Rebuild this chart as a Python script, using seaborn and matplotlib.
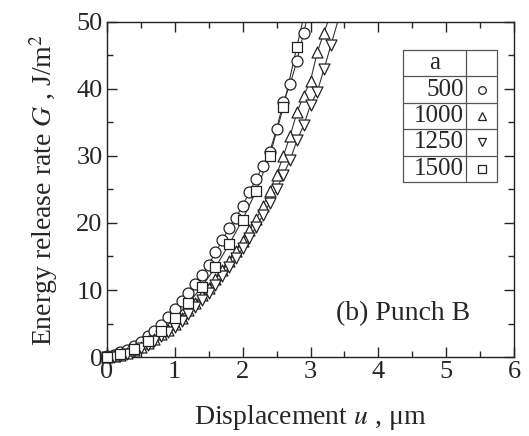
import numpy as np
import pandas as pd
import matplotlib
matplotlib.use("Agg")
import matplotlib.pyplot as plt
import seaborn as sns

# ---- data ----
u_500 = [0.0, 0.1, 0.2, 0.3, 0.4, 0.5, 0.6, 0.7, 0.8, 0.9, 1.0, 1.1, 1.2, 1.3, 1.4,
         1.5, 1.6, 1.7, 1.8, 1.9, 2.0, 2.1, 2.2, 2.3, 2.4, 2.5, 2.6, 2.7, 2.8, 2.9]
G_500 = [0.1, 0.3, 0.7, 1.1, 1.6, 2.3, 3.1, 3.9, 4.8, 6.0, 7.2, 8.3, 9.6, 10.9, 12.3,
         13.8, 15.6, 17.4, 19.3, 20.8, 22.6, 24.6, 26.6, 28.5, 30.6, 34.0, 38.0, 40.7, 44.2, 48.4]

u_1000 = [0.0, 0.1, 0.2, 0.3, 0.4, 0.5, 0.6, 0.7, 0.8, 0.9, 1.0, 1.1, 1.2, 1.3, 1.4, 1.5, 1.6,
          1.7, 1.8, 1.9, 2.0, 2.1, 2.2, 2.3, 2.4, 2.5, 2.6, 2.7, 2.8, 2.9, 3.0, 3.1, 3.2]
G_1000 = [0.0, 0.1, 0.3, 0.6, 1.0, 1.5, 2.1, 2.7, 3.4, 4.1, 4.9, 5.9, 7.0, 8.1, 9.2, 10.3, 11.7,
          13.0, 14.3, 15.8, 17.3, 18.9, 20.6, 22.5, 24.8, 27.2, 30.0, 33.0, 36.5, 39.0, 41.2, 45.5, 48.4]

u_1250 = [0.0, 0.1, 0.2, 0.3, 0.4, 0.5, 0.6, 0.7, 0.8, 0.9, 1.0, 1.1, 1.2, 1.3, 1.4, 1.5, 1.6,
          1.7, 1.8, 1.9, 2.0, 2.1, 2.2, 2.3, 2.4, 2.5, 2.6, 2.7, 2.8, 2.9, 3.0, 3.1, 3.2, 3.3]
G_1250 = [0.0, 0.05, 0.2, 0.5, 0.9, 1.3, 1.8, 2.4, 3.1, 3.8, 4.5, 5.4, 6.4, 7.4, 8.5, 9.6, 10.8,
          12.1, 13.4, 14.8, 16.2, 17.8, 19.4, 21.2, 23.0, 25.0, 27.2, 29.4, 32.3, 34.6, 37.6, 39.6, 43.0, 46.5]

u_1500 = [0.0, 0.2, 0.4, 0.6, 0.8, 1.0, 1.2, 1.4, 1.6, 1.8, 2.0, 2.2, 2.4, 2.6, 2.8]
G_1500 = [0.0, 0.4, 1.2, 2.4, 3.9, 5.8, 8.0, 10.5, 13.4, 16.8, 20.5, 24.8, 30.0, 37.3, 46.3]

labels = ["500", "1000", "1250", "1500"]
markers = ["o", "^", "v", "s"]
series = [(u_500, G_500), (u_1000, G_1000), (u_1250, G_1250), (u_1500, G_1500)]

x_ticks = [0, 1, 2, 3, 4, 5, 6]
y_ticks = [0, 10, 20, 30, 40, 50]

# ---- style ----
sns.set_style("ticks")
plt.rcParams["font.family"] = ["Liberation Serif", "DejaVu Serif"]
plt.rcParams["mathtext.fontset"] = "stix"

fig = plt.figure(figsize=(5.29, 4.36), dpi=100)
ax = fig.add_axes([0.202, 0.181, 0.770, 0.769])

for (u, G), lab, m in zip(series, labels, markers):
    u = np.asarray(u, float)
    G = np.asarray(G, float)
    # line through the points, continued past the last point along the final slope
    slope = (G[-1] - G[-2]) / (u[-1] - u[-2])
    u_ext = u[-1] + (56 - G[-1]) / slope
    ul = np.append(u, u_ext)
    Gl = np.append(G, 56.0)
    sns.lineplot(x=ul, y=Gl, ax=ax, color="#333333", lw=0.8, zorder=2, sort=False)
    df = pd.DataFrame({"u": u, "G": G})
    sns.scatterplot(data=df, x="u", y="G", ax=ax, marker=m, s=62,
                    facecolor="white", edgecolor="#222222", linewidth=0.9,
                    zorder=3, clip_on=False)

ax.set_xlim(0, 6)
ax.set_ylim(0, 50)
ax.set_xticks(x_ticks)
ax.set_yticks(y_ticks)
ax.set_xticks(np.arange(0.5, 6, 1.0), minor=True)
ax.set_yticks(np.arange(5, 50, 10), minor=True)
ax.tick_params(which="both", direction="in", top=True, right=True, labelsize=19, width=1.0)
ax.tick_params(which="major", length=7, pad=3)
ax.tick_params(which="minor", length=4)
for sp in ax.spines.values():
    sp.set_linewidth(1.0)
    sp.set_color("#222222")

ax.set_xlabel("Displacement $u$ , μm", fontsize=20, labelpad=14)
ax.set_ylabel("Energy release rate $G$ , J/m$^2$", fontsize=20, labelpad=12)

ax.text(0.892, 0.131, "(b) Punch B", transform=ax.transAxes, ha="right", va="center", fontsize=20)

# ---- table-style legend ----
x0, x1, xd = 0.727, 0.958, 0.882
y_top, y_bot = 0.916, 0.522
nrow = 5
rh = (y_top - y_bot) / nrow
lc = "#555555"
tr = ax.transAxes
ax.plot([x0, x1, x1, x0, x0], [y_bot, y_bot, y_top, y_top, y_bot], transform=tr, color=lc, lw=0.9, zorder=5)
ax.plot([xd, xd], [y_bot, y_top], transform=tr, color=lc, lw=0.9, zorder=5)
for i in range(1, nrow):
    yy = y_top - i * rh
    ax.plot([x0, x1], [yy, yy], transform=tr, color=lc, lw=0.9, zorder=5)
ax.text((x0 + xd) / 2, y_top - 0.5 * rh, "a", transform=tr, ha="center", va="center", fontsize=18)
for i, (lab, m) in enumerate(zip(labels, markers)):
    yc = y_top - (i + 1.5) * rh
    ax.text(xd - 0.006, yc, lab, transform=tr, ha="right", va="center", fontsize=18)
    ax.plot([(xd + x1) / 2], [yc], transform=tr, marker=m, ms=5.5, mfc="white",
            mec="#222222", mew=0.9, ls="none", zorder=6)

fig.savefig("out.png", dpi=100)
